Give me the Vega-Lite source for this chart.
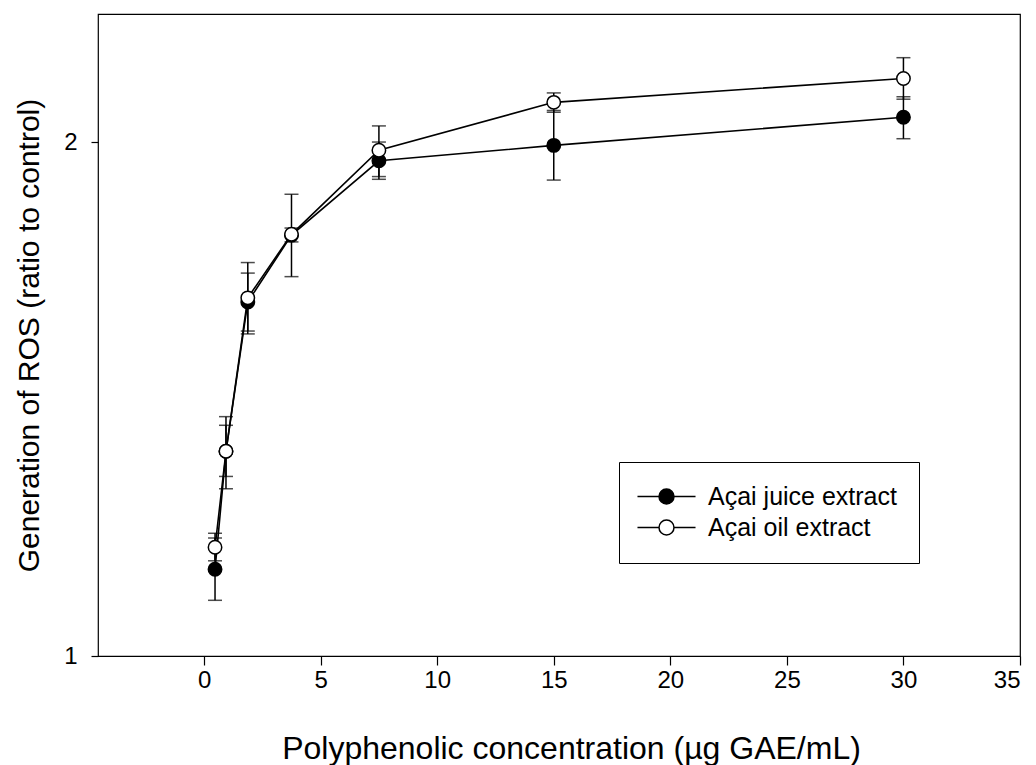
{
  "$schema": "https://vega.github.io/schema/vega-lite/v6.json",
  "width": 922,
  "height": 642,
  "autosize": {"type": "none"},
  "padding": {"left": 98, "top": 14, "right": 16, "bottom": 109},
  "background": "white",
  "config": {
    "font": "Liberation Sans",
    "view": {"stroke": "black", "strokeWidth": 1.2},
    "axis": {"grid": false, "domain": false, "tickColor": "black", "tickWidth": 1.2, "labelColor": "black", "titleColor": "black", "titleFontWeight": "normal", "labelFont": "Liberation Sans", "titleFont": "Liberation Sans", "labelFontSize": 24, "titleFontSize": 32}
  },
  "data": {"values": [
    {"series": "Açai juice extract", "x": 0.47, "y": 1.124, "lo": 1.078, "hi": 1.1725},
    {"series": "Açai juice extract", "x": 0.94, "y": 1.318, "lo": 1.253, "hi": 1.381},
    {"series": "Açai juice extract", "x": 1.875, "y": 1.612, "lo": 1.550, "hi": 1.676},
    {"series": "Açai juice extract", "x": 3.75, "y": 1.764, "lo": 1.668, "hi": 1.864},
    {"series": "Açai juice extract", "x": 7.5, "y": 1.950, "lo": 1.902, "hi": 2.0},
    {"series": "Açai juice extract", "x": 15, "y": 1.991, "lo": 1.900, "hi": 2.087},
    {"series": "Açai juice extract", "x": 30, "y": 2.068, "lo": 2.009, "hi": 2.126},
    {"series": "Açai oil extract", "x": 0.47, "y": 1.158, "lo": 1.137, "hi": 1.180},
    {"series": "Açai oil extract", "x": 0.94, "y": 1.318, "lo": 1.274, "hi": 1.365},
    {"series": "Açai oil extract", "x": 1.875, "y": 1.621, "lo": 1.544, "hi": 1.700},
    {"series": "Açai oil extract", "x": 3.75, "y": 1.766, "lo": 1.748, "hi": 1.781},
    {"series": "Açai oil extract", "x": 7.5, "y": 1.978, "lo": 1.909, "hi": 2.044},
    {"series": "Açai oil extract", "x": 15, "y": 2.110, "lo": 2.082, "hi": 2.137},
    {"series": "Açai oil extract", "x": 30, "y": 2.179, "lo": 2.119, "hi": 2.241}
  ]},
  "layer": [
    {
      "mark": {"type": "line", "color": "black", "strokeWidth": 1.6},
      "encoding": {
        "x": {"field": "x", "type": "quantitative", "scale": {"domain": [-4.55, 35], "nice": false, "zero": false}, "title": "Polyphenolic concentration (µg GAE/mL)",
          "axis": {"values": [0, 5, 10, 15, 20, 25, 30, 35], "tickSize": 9, "labelPadding": 3, "labelFontSize": 24, "titleFontSize": 32, "titlePadding": 41, "titleX": 473}},
        "y": {"field": "y", "type": "quantitative", "scale": {"type": "log", "domain": [1, 2.377], "nice": false, "zero": false}, "title": "Generation of ROS (ratio to control)",
          "axis": {"values": [1, 2], "tickSize": 7, "labelPadding": 14, "labelFontSize": 24, "titleFontSize": 30, "titlePadding": 19}},
        "detail": {"field": "series", "type": "nominal"}
      }
    },
    {
      "mark": {"type": "rule", "color": "black", "strokeWidth": 1.5},
      "encoding": {
        "x": {"field": "x", "type": "quantitative", "title": "Polyphenolic concentration (µg GAE/mL)",
          "axis": {"values": [0, 5, 10, 15, 20, 25, 30, 35], "tickSize": 9, "labelPadding": 3, "labelFontSize": 24, "titleFontSize": 32, "titlePadding": 41, "titleX": 473}},
        "y": {"field": "lo", "type": "quantitative", "title": "Generation of ROS (ratio to control)",
          "axis": {"values": [1, 2], "tickSize": 7, "labelPadding": 14, "labelFontSize": 24, "titleFontSize": 30, "titlePadding": 19}},
        "y2": {"field": "hi"}
      }
    },
    {
      "mark": {"type": "tick", "orient": "horizontal", "color": "black", "size": 14, "thickness": 1.5},
      "encoding": {
        "x": {"field": "x", "type": "quantitative", "title": "Polyphenolic concentration (µg GAE/mL)",
          "axis": {"values": [0, 5, 10, 15, 20, 25, 30, 35], "tickSize": 9, "labelPadding": 3, "labelFontSize": 24, "titleFontSize": 32, "titlePadding": 41, "titleX": 473}},
        "y": {"field": "lo", "type": "quantitative", "title": "Generation of ROS (ratio to control)",
          "axis": {"values": [1, 2], "tickSize": 7, "labelPadding": 14, "labelFontSize": 24, "titleFontSize": 30, "titlePadding": 19}}
      }
    },
    {
      "mark": {"type": "tick", "orient": "horizontal", "color": "black", "size": 14, "thickness": 1.5},
      "encoding": {
        "x": {"field": "x", "type": "quantitative", "title": "Polyphenolic concentration (µg GAE/mL)",
          "axis": {"values": [0, 5, 10, 15, 20, 25, 30, 35], "tickSize": 9, "labelPadding": 3, "labelFontSize": 24, "titleFontSize": 32, "titlePadding": 41, "titleX": 473}},
        "y": {"field": "hi", "type": "quantitative", "title": "Generation of ROS (ratio to control)",
          "axis": {"values": [1, 2], "tickSize": 7, "labelPadding": 14, "labelFontSize": 24, "titleFontSize": 30, "titlePadding": 19}}
      }
    },
    {
      "mark": {"type": "point", "shape": "circle", "filled": true, "stroke": "black", "strokeWidth": 1.5, "size": 180, "opacity": 1},
      "encoding": {
        "x": {"field": "x", "type": "quantitative", "title": "Polyphenolic concentration (µg GAE/mL)",
          "axis": {"values": [0, 5, 10, 15, 20, 25, 30, 35], "tickSize": 9, "labelPadding": 3, "labelFontSize": 24, "titleFontSize": 32, "titlePadding": 41, "titleX": 473}},
        "y": {"field": "y", "type": "quantitative", "title": "Generation of ROS (ratio to control)",
          "axis": {"values": [1, 2], "tickSize": 7, "labelPadding": 14, "labelFontSize": 24, "titleFontSize": 30, "titlePadding": 19}},
        "fill": {"field": "series", "type": "nominal",
          "scale": {"domain": ["Açai juice extract", "Açai oil extract"], "range": ["black", "white"]},
          "legend": {"title": null, "orient": "none", "legendX": 521, "legendY": 448, "strokeColor": "black", "fillColor": "white", "padding": 22, "labelFontSize": 25, "labelColor": "black", "labelLimit": 400, "labelOffset": 29, "symbolOffset": 13, "rowPadding": 5, "symbolType": "M-3.87,0L-1,0M1,0L3.87,0M1,0A1,1,0,1,1,-1,0A1,1,0,1,1,1,0Z", "symbolSize": 225, "symbolStrokeColor": "black", "symbolStrokeWidth": 1.5, "symbolOpacity": 1}
        }
      }
    }
  ]
}
